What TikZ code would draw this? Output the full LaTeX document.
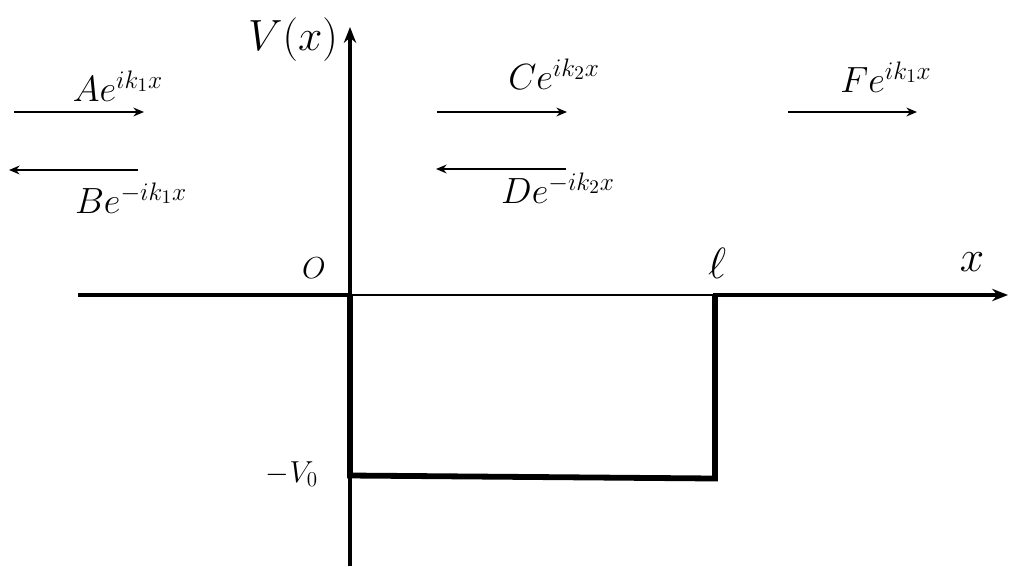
\documentclass[tikz,border=0pt]{standalone}
\usetikzlibrary{arrows.meta}

\begin{document}
\begin{tikzpicture}[x=0.02cm, y=-0.02cm]
                \useasboundingbox (0,0) rectangle (1010,566);

                % axes
                \draw[line width=2.2pt, -{Stealth[length=9pt,width=7pt]}] (350,566) -- (350,27);
                \draw[line width=2.4pt] (78,295) -- (350,295);
                \draw[line width=0.8pt] (350,295) -- (715,295);
                \draw[line width=2.6pt, -{Stealth[length=9pt,width=7pt]}] (713,295) -- (1008,295);

                % well
                \draw[line width=3.3pt, line join=miter] (350,294) -- (350,475.5) -- (715,478.5) -- (715,294);

                \node at (293,40) {\fontsize{24}{28}\selectfont $V(x)$};
                \node at (314,268) {\fontsize{19}{22}\selectfont $O$};
                \node at (717,263) {\fontsize{27}{30}\selectfont $\ell$};
                \node at (972,262) {\fontsize{27}{30}\selectfont $x$};
                \node at (292,474) {\fontsize{17}{20}\selectfont $-V_0$};

                % waves
                \draw[line width=1pt, -{Stealth[length=6pt,width=5pt]}] (14,112) -- (144,112);
                \draw[line width=1pt, -{Stealth[length=6pt,width=5pt]}] (138,170) -- (9,170);
                \draw[line width=1pt, -{Stealth[length=6pt,width=5pt]}] (437,112) -- (567,112);
                \draw[line width=1pt, -{Stealth[length=6pt,width=5pt]}] (566,169) -- (436,169);
                \draw[line width=1pt, -{Stealth[length=6pt,width=5pt]}] (788,112) -- (917,112);

                \node at (118,86) {\fontsize{21}{25}\selectfont $Ae^{ik_1x}$};
                \node at (131,198) {\fontsize{21}{25}\selectfont $Be^{-ik_1x}$};
                \node at (554,74) {\fontsize{21}{25}\selectfont $Ce^{ik_2x}$};
                \node at (558,188) {\fontsize{21}{25}\selectfont $De^{-ik_2x}$};
                \node at (886,77) {\fontsize{21}{25}\selectfont $Fe^{ik_1x}$};
            \end{tikzpicture}
\end{document}
